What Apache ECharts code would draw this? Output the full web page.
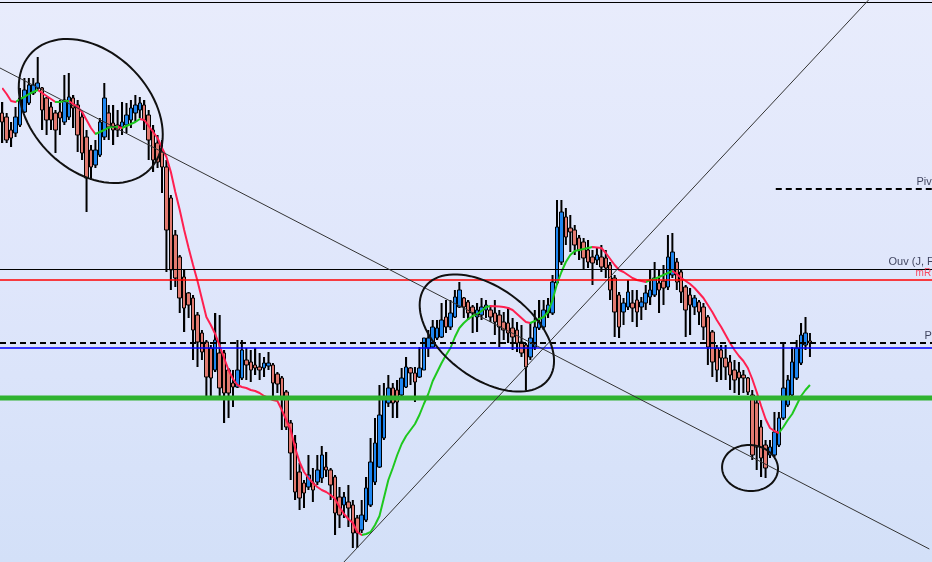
<!DOCTYPE html>
<html><head><meta charset="utf-8">
<script src="https://cdn.jsdelivr.net/npm/echarts@6/dist/echarts.min.js"></script>
<style>
html,body{margin:0;padding:0;}
#c{width:932px;height:562px;background:linear-gradient(to bottom,#e8ecfc 0%,#dfe6fb 50%,#d3e0f8 100%);overflow:hidden;}
</style>
</head><body><div id="c"></div>
<script>
// Price depth values (chart units, larger = lower on the chart)
const openV = [113,117,130,133,125,112,103,93,88,88,98,107,113,112,122,117,98,105,117,137,150,165,155,137,113,123,125,127,125,120,113,110,105,115,130,143,152,167,198,235,257,277,293,298,315,333,342,348,370,353,353,370,383,387,378,360,362,365,367,368,366,365,374,378,392,423,443,472,483,487,483,482,478,467,470,477,497,505,502,505,518,530,520,505,482,467,438,403,388,390,395,387,368,373,377,370,348,347,338,337,317,327,317,307,298,302,307,317,315,310,310,313,315,322,323,328,330,342,345,357,347,328,327,313,313,283,262,217,228,230,238,242,250,257,260,257,258,265,278,295,312,307,303,300,307,303,297,295,283,281,287,275,262,272,287,295,307,302,307,317,332,348,350,358,362,370,372,375,378,395,403,427,445,455,455,445,418,405,395,378,363,345,341];
const closeV = [122,140,138,117,98,90,85,85,83,110,120,120,130,118,100,97,108,135,153,178,167,150,122,98,127,130,130,122,115,108,105,103,120,140,160,162,167,230,270,278,298,308,305,330,342,352,377,378,340,388,393,393,387,370,350,365,370,368,370,363,363,383,384,398,427,453,492,498,493,475,490,470,455,470,485,513,515,497,508,533,533,515,488,462,443,415,397,388,403,402,378,367,373,382,368,338,338,327,328,320,327,313,297,290,307,313,313,310,307,305,317,322,327,330,333,337,343,353,367,338,327,322,310,305,282,227,212,237,232,245,250,258,262,263,255,267,268,290,312,327,303,292,308,312,302,293,290,278,290,288,257,252,282,292,310,305,298,312,327,347,362,370,358,367,375,380,378,378,392,455,447,458,468,447,432,418,388,380,362,348,335,333,343];
const wickTop = [102,113,122,107,88,78,78,78,57,87,97,102,110,100,75,73,95,100,112,130,145,140,118,83,105,105,110,102,103,100,95,97,100,110,125,135,140,160,195,230,255,270,292,295,312,330,340,345,313,315,350,368,370,340,340,348,350,348,353,357,352,363,372,376,390,420,435,463,480,455,468,455,446,452,468,475,487,492,485,500,515,500,477,438,418,385,383,375,383,380,368,357,367,367,347,338,330,320,320,303,300,300,290,282,297,300,305,303,298,300,306,300,310,312,307,318,322,325,343,322,310,300,300,298,275,200,200,208,215,225,235,238,240,250,248,245,250,262,275,292,298,280,290,290,297,285,270,262,270,265,235,233,258,270,285,288,295,300,303,315,330,345,345,345,355,360,362,370,377,390,400,420,440,440,412,412,343,375,347,340,323,317,333];
const wickBottom = [143,143,147,137,127,113,105,95,90,130,135,130,153,135,125,120,128,152,160,212,180,168,157,140,140,145,137,135,133,128,122,118,130,160,172,168,193,272,290,287,313,332,318,360,367,360,397,397,372,397,423,418,407,388,380,380,382,375,380,377,370,397,393,430,430,480,500,510,508,490,502,485,483,477,500,535,528,518,527,548,548,533,522,507,485,468,440,407,418,418,397,388,385,402,378,370,357,348,340,338,333,330,318,308,318,320,333,332,320,318,322,335,347,340,343,350,352,357,390,360,350,330,330,318,315,285,265,245,252,255,260,270,268,285,265,272,278,300,337,338,325,310,322,327,320,310,305,297,313,305,290,278,290,303,337,335,315,325,340,365,377,382,380,380,390,393,395,393,395,460,470,477,478,458,457,447,420,407,397,380,365,350,357];
// Moving average
const maV = [88,94,101,102,99,97,94,92,90,93,96,99,102,102,101,101,104,107,112,120,128,134,132,130,127.5,127,127,128,126,124,122,119,120,126,132,138,148,157,172,192,210,230,248,265,281,299,317,325,334,346,358,370,379,385,387,388,390,391,393,396,398,400,401,410,420,430,448,462,472,478,483,487,490,492,495,499,507,514,519,523,532,535,534,532,525,516,498,480,468,455,444,436,430,424,415,404,394,381,372,363,355,348,337,328,323,319,316,314,311,307,306,306.3,306.6,307,308,310,314,318,322,323,321,319,317,312,300,284,272,262,255,251,250,249,248,247,247.5,248,253,259,265,270,272,275,278,280,281,282,280,279,277,275,273,271,274,278,281,284,288,293,298,305,312,320,327,335,343,350,356,361,368,379,392,406,419,428,431,433,427,420,414,405,396,390,385];
const categories = Array.from({length: 210}, (_, i) => 'Bar ' + (i + 1));

// Horizontal reference levels
const levels = {
  top: 2.5,
  pivot: 189,
  ouv: 269,
  mR: 280,
  pDashed: 343,
  blue: 348,
  support: 398
};
const pivotStart = 174.3;
// Trend lines (bar index, level)
const trendDown = [[-0.5, 68], [208.9, 549]];
const trendUp = [[77.0, 562], [195.2, 0]];
// Hand-drawn ellipses: centre (bar index, level)
const ellipseCentres = [[19.95, 111], [109.2, 333], [168.5, 468]];
const ellipseShape = [{a: 83, b: 59, ang: 45}, {a: 77, b: 45, ang: 37}, {a: 28, b: 23, ang: 5}];
// Right-edge labels
const labelItems = [
  {name: 'Pivot', value: [206.0, 187], color: '#141833', size: 11},
  {name: 'Ouv (J, F)', value: [199.7, 267], color: '#141833', size: 11},
  {name: 'mR', value: [205.8, 278], color: '#ff1f3a', size: 10},
  {name: 'P', value: [207.8, 341], color: '#141833', size: 11}
];

const RED = '#ff1f4f', GREEN = '#1ec81e';
function dirColor(i) { return maV[i + 1] > maV[i] ? RED : GREEN; }
const pieces = [];
let start = 0, cur = dirColor(0);
for (let i = 1; i < maV.length - 1; i++) {
  const c = dirColor(i);
  if (c !== cur) { pieces.push({gte: start, lt: i, color: cur}); start = i; cur = c; }
}
pieces.push({gte: start, lte: 1000, color: cur});

const candleData = openV.map((o, i) => [o, closeV[i], wickTop[i], wickBottom[i]]);
const wickData = openV.map((o, i) => [i, wickTop[i], wickBottom[i]]);

function hLine(y, color, width, type) {
  return {yAxis: y, lineStyle: {color: color, width: width, type: type || 'solid'}};
}

const chart = echarts.init(document.getElementById('c'), null, {renderer: 'canvas'});
chart.setOption({
  animation: false,
  backgroundColor: 'transparent',
  grid: {left: 0, top: 0, width: 934.5, height: 562, containLabel: false},
  xAxis: [
    {type: 'category', data: categories, show: false, boundaryGap: true},
    {type: 'value', min: -0.5, max: 209.5, show: false}
  ],
  yAxis: [{type: 'value', min: 0, max: 562, inverse: true, show: false}],
  visualMap: {show: false, type: 'piecewise', dimension: 0, seriesIndex: 1, pieces: pieces},
  series: [
    {
      type: 'candlestick', xAxisIndex: 0, data: candleData, barWidth: 4,
      itemStyle: {color: '#e27a70', color0: '#1f86f0', borderColor: '#000', borderColor0: '#000', borderColorDoji: '#000', borderWidth: 1},
      z: 2,
      markLine: {
        silent: true, symbol: ['none', 'none'], label: {show: false}, animation: false,
        data: [
          hLine(levels.top, '#000', 1),
          hLine(levels.ouv, '#000', 1),
          hLine(levels.mR, '#ff0000', 1.5),
          hLine(levels.pDashed, '#000', 2, [6, 4]),
          hLine(levels.blue, '#0000ff', 1.5)
        ]
      }
    },
    {
      type: 'line', xAxisIndex: 0, data: maV, showSymbol: false, symbol: 'none',
      lineStyle: {width: 2}, z: 3
    },
    {
      type: 'line', xAxisIndex: 1, data: [[-0.5, levels.support], [209.5, levels.support]],
      symbol: 'none', lineStyle: {color: '#2fb22f', width: 5}, z: 4
    },
    {
      type: 'line', xAxisIndex: 1, data: [[pivotStart, levels.pivot], [209.5, levels.pivot]],
      symbol: 'none', lineStyle: {color: '#000', width: 2, type: [6, 4]}, z: 4
    },
    {
      type: 'line', xAxisIndex: 1, data: trendDown, symbol: 'none', clip: false,
      lineStyle: {color: '#333', width: 1}, z: 5
    },
    {
      type: 'line', xAxisIndex: 1, data: trendUp, symbol: 'none', clip: false,
      lineStyle: {color: '#333', width: 1}, z: 5
    },
    {
      type: 'custom', xAxisIndex: 1, data: ellipseCentres, z: 6, silent: true,
      renderItem: function (params, api) {
        const p = api.coord([api.value(0), api.value(1)]);
        const s = ellipseShape[params.dataIndex];
        const t = s.ang * Math.PI / 180;
        const pts = [];
        for (let k = 0; k <= 90; k++) {
          const u = k / 90 * Math.PI * 2;
          const ex = s.a * Math.cos(u), ey = s.b * Math.sin(u);
          pts.push([p[0] + ex * Math.cos(t) - ey * Math.sin(t), p[1] + ex * Math.sin(t) + ey * Math.cos(t)]);
        }
        return {type: 'polyline', shape: {points: pts}, style: {fill: null, stroke: '#111', lineWidth: 2}};
      }
    },
    {
      type: 'scatter', xAxisIndex: 1, symbolSize: 0, z: 7, silent: true,
      data: labelItems.map(d => ({name: d.name, value: d.value,
        label: {show: true, formatter: d.name, position: [0, 0], align: 'left', verticalAlign: 'bottom',
          color: d.color, fontSize: d.size, fontFamily: 'Liberation Sans, Arial, sans-serif'}}))
    },
    {
      type: 'custom', xAxisIndex: 0, data: wickData, z: 1, silent: true,
      renderItem: function (params, api) {
        const a = api.coord([api.value(0), api.value(1)]);
        const b = api.coord([api.value(0), api.value(2)]);
        return {type: 'line', shape: {x1: a[0], y1: a[1], x2: b[0], y2: b[1]}, style: {stroke: '#000', lineWidth: 2}};
      }
    }
  ]
});
</script>
</body></html>
